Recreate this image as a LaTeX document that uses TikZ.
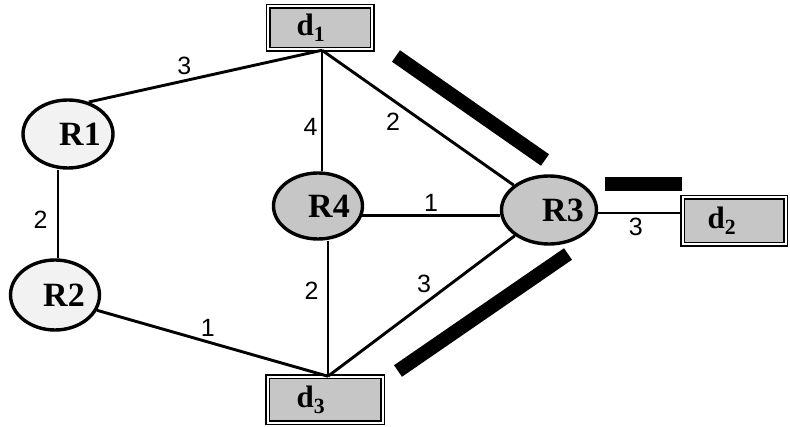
\documentclass[tikz,border=0pt]{standalone}
\usepackage{fontspec}
\setmainfont{Liberation Serif}
\setsansfont{Liberation Sans}
\usetikzlibrary{shapes.geometric,calc}
\begin{document}
\begin{tikzpicture}[x=1pt,y=-1pt,
 router/.style={ellipse, draw, line width=3.4pt, inner sep=0pt},
 lightr/.style={router, fill=gray!10},
 darkr/.style={router, fill=gray!45},
 rtxt/.style={font=\fontsize{34}{34}\selectfont\bfseries, inner sep=0pt},
 dest/.style={rectangle, draw, double, double distance=2pt, line width=1.5pt, fill=gray!45, inner sep=0pt},
 dtxt/.style={font=\fontsize{31}{31}\selectfont\bfseries, inner sep=0pt},
 link/.style={line width=2.9pt},
 lbl/.style={font=\sffamily\fontsize{25}{25}\selectfont, inner sep=1pt},
 bar/.style={line width=14pt, line cap=butt}
]
\useasboundingbox (0,0) rectangle (790,427);
% routers
\node[lightr, minimum width=90pt, minimum height=68pt, label={[rtxt, xshift=12pt]center:R1}] (R1) at (68,134) {};
\node[lightr, minimum width=89pt, minimum height=70pt, label={[rtxt, xshift=9pt]center:R2}] (R2) at (55,295) {};
\node[darkr, minimum width=89pt, minimum height=66pt, label={[rtxt, xshift=11pt]center:R4}] (R4) at (318,206) {};
\node[darkr, minimum width=95pt, minimum height=68pt, label={[rtxt, xshift=14pt]center:R3}] (R3) at (549,210) {};
% destinations
\node[dest, minimum width=104pt, minimum height=43pt, label={[dtxt, xshift=-9pt]center:d\textsubscript{1}}] (d1) at (320,28) {};
\node[dest, minimum width=103pt, minimum height=47pt, label={[dtxt, xshift=-12pt]center:d\textsubscript{2}}] (d2) at (734,221) {};
\node[dest, minimum width=115pt, minimum height=46pt, label={[dtxt, xshift=-14pt]center:d\textsubscript{3}}] (d3) at (325,400) {};
% connection points
\coordinate (d1p) at ([xshift=2pt]d1.south);
\coordinate (d3p) at ([xshift=3pt]d3.north);
\coordinate (r1t) at (R1.57);
\coordinate (r1b) at ([xshift=-10pt]R1.south);
\coordinate (r2t) at ([xshift=3pt]R2.north);
\coordinate (r2r) at (R2.-20);
\coordinate (r4t) at ([xshift=4pt]R4.north);
\coordinate (r4b) at ([xshift=10pt]R4.south);
\coordinate (r4r) at (R4.-12);
\coordinate (r3l) at (R3.west |- r4r);
\coordinate (r3r) at ([yshift=-3pt]R3.east);
\coordinate (d2l) at (d2.west |- r3r);
% links
\draw[link] (r1t) -- node[lbl, pos=0.41, above=4pt] {3} (d1p);
\draw[link] (r1b) -- node[lbl, pos=0.57, left=8pt] {2} (r2t);
\draw[link] (r2r) -- node[lbl, pos=0.48, above=3pt] {1} (d3p);
\draw[link] (d1p) -- node[lbl, pos=0.63, left=2pt] {4} (r4t);
\draw[link] (d1p) -- node[lbl, pos=0.43, below left=2pt] {2} (R3);
\draw[link] (r4r) -- node[lbl, pos=0.5, above=1pt] {1} (r3l);
\draw[link] (r4b) -- node[lbl, pos=0.37, left=7pt] {2} (d3p);
\draw[link] (d3p) -- node[lbl, pos=0.57, above left=1pt] {3} (R3);
\draw[link] (r3r) -- node[lbl, pos=0.45, below=3pt] {3} (d2l);
% thick bars
\coordinate (b1a) at (396,56);
\coordinate (b1b) at (545,160);
\coordinate (b2a) at (605,184);
\coordinate (b2b) at (682,184);
\coordinate (b3a) at (398,371);
\coordinate (b3b) at (568,254);
\draw[bar] (b1a) -- (b1b);
\draw[bar] (b2a) -- (b2b);
\draw[bar] (b3a) -- (b3b);
\end{tikzpicture}
\end{document}
